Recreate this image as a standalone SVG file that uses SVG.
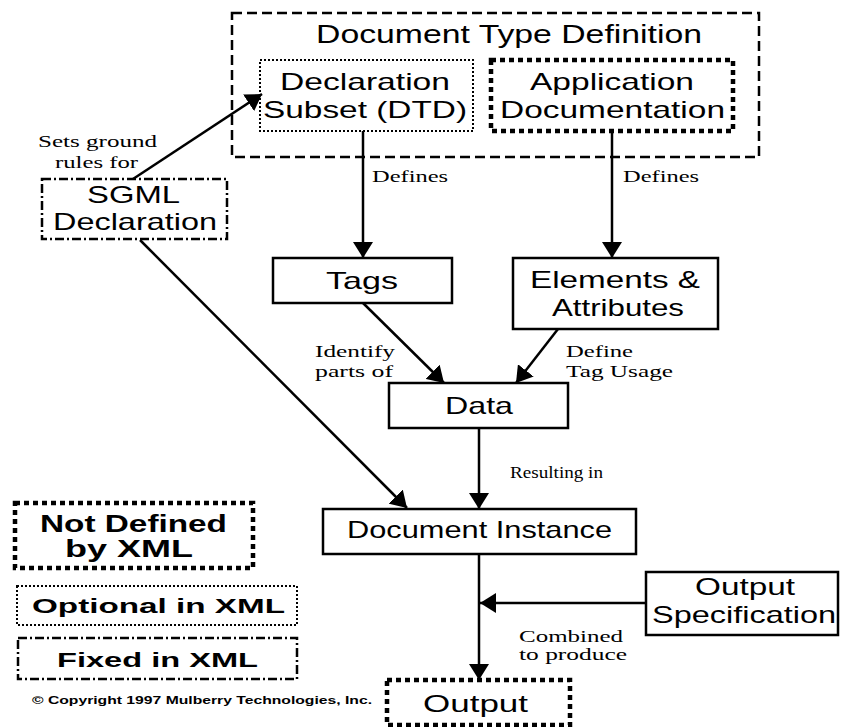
<svg xmlns="http://www.w3.org/2000/svg" width="841" height="727" viewBox="0 0 841 727">
  <style>
    .box { fill: none; stroke: #000; stroke-width: 2.5; }
    .dashed { stroke-dasharray: 10 5; stroke-width: 2.5; }
    .dotted { stroke-dasharray: 2 2; stroke-width: 2; }
    .thickdot { stroke-dasharray: 5 4; stroke-width: 4.5; }
    .dashdot { stroke-dasharray: 9 3 2 3; stroke-width: 2.5; }
    .sans { font-family: "Liberation Sans", Arial, sans-serif; font-size: 24px; fill: #000; }
    .title { font-size: 25px; }
    .serif { font-family: "Liberation Serif", "Times New Roman", serif; font-size: 16px; fill: #000; }
    .legend { font-family: "Liberation Sans", Arial, sans-serif; font-weight: bold; fill: #000; }
    .conn line { stroke: #000; stroke-width: 2.5; }
  </style>
  <defs>
    <marker id="arrow" viewBox="0 0 16 20" refX="16" refY="10" markerWidth="16" markerHeight="20" markerUnits="userSpaceOnUse" orient="auto">
      <path d="M0,0 L16,10 L0,20 Z" fill="#000"/>
    </marker>
  </defs>
  <rect width="841" height="727" fill="#fff"/>

  <!-- Document Type Definition container -->
  <g id="dtd">
    <rect class="box dashed" x="232" y="13" width="527" height="144"/>
    <text class="sans title" x="316" y="43" textLength="386" lengthAdjust="spacingAndGlyphs">Document Type Definition</text>
  </g>
  <g id="declaration-subset">
    <rect class="box dotted" x="260" y="60" width="213" height="71"/>
    <text class="sans" x="280" y="90" textLength="170" lengthAdjust="spacingAndGlyphs">Declaration</text>
    <text class="sans" x="263" y="118" textLength="204" lengthAdjust="spacingAndGlyphs">Subset (DTD)</text>
  </g>
  <g id="application-documentation">
    <rect class="box thickdot" x="491" y="60" width="242" height="71"/>
    <text class="sans" x="530" y="90" textLength="164" lengthAdjust="spacingAndGlyphs">Application</text>
    <text class="sans" x="500" y="118" textLength="225" lengthAdjust="spacingAndGlyphs">Documentation</text>
  </g>
  <g id="sgml-declaration">
    <rect class="box dashdot" x="42" y="179" width="185" height="60"/>
    <text class="sans" x="87" y="203" textLength="93" lengthAdjust="spacingAndGlyphs">SGML</text>
    <text class="sans" x="53" y="230" textLength="164" lengthAdjust="spacingAndGlyphs">Declaration</text>
  </g>
  <g id="tags">
    <rect class="box" x="273" y="258" width="179" height="45"/>
    <text class="sans" x="326" y="289" textLength="72" lengthAdjust="spacingAndGlyphs">Tags</text>
  </g>
  <g id="elements-attributes">
    <rect class="box" x="513" y="258" width="205" height="71"/>
    <text class="sans" x="530" y="288" textLength="170" lengthAdjust="spacingAndGlyphs">Elements &amp;</text>
    <text class="sans" x="552" y="316" textLength="132" lengthAdjust="spacingAndGlyphs">Attributes</text>
  </g>
  <g id="data">
    <rect class="box" x="389" y="383" width="179" height="45"/>
    <text class="sans" x="445" y="414" textLength="68" lengthAdjust="spacingAndGlyphs">Data</text>
  </g>
  <g id="document-instance">
    <rect class="box" x="323" y="509" width="313" height="45"/>
    <text class="sans" x="347" y="538" textLength="265" lengthAdjust="spacingAndGlyphs">Document Instance</text>
  </g>
  <g id="output-specification">
    <rect class="box" x="646" y="572" width="192" height="63"/>
    <text class="sans" x="695" y="595" textLength="100" lengthAdjust="spacingAndGlyphs">Output</text>
    <text class="sans" x="652" y="623" textLength="184" lengthAdjust="spacingAndGlyphs">Specification</text>
  </g>
  <g id="output">
    <rect class="box thickdot" x="387" y="680" width="183" height="45"/>
    <text class="sans" x="423" y="712" textLength="105" lengthAdjust="spacingAndGlyphs">Output</text>
  </g>

  <!-- connectors -->
  <g id="connectors" class="conn">
    <line x1="133" y1="179" x2="262" y2="94" marker-end="url(#arrow)"/>
    <line x1="363" y1="131" x2="363" y2="258" marker-end="url(#arrow)"/>
    <line x1="612" y1="131" x2="612" y2="258" marker-end="url(#arrow)"/>
    <line x1="363" y1="303" x2="444" y2="383" marker-end="url(#arrow)"/>
    <line x1="558" y1="329" x2="516" y2="383" marker-end="url(#arrow)"/>
    <line x1="140" y1="240" x2="407" y2="508" marker-end="url(#arrow)"/>
    <line x1="479" y1="428" x2="479" y2="509" marker-end="url(#arrow)"/>
    <line x1="479" y1="554" x2="479" y2="680" marker-end="url(#arrow)"/>
    <line x1="646" y1="603" x2="480" y2="603" marker-end="url(#arrow)"/>
  </g>

  <!-- connector labels -->
  <g id="labels">
    <text class="serif" x="38" y="147" textLength="119" lengthAdjust="spacingAndGlyphs">Sets ground</text>
    <text class="serif" x="55" y="168" textLength="83" lengthAdjust="spacingAndGlyphs">rules for</text>
    <text class="serif" x="372" y="182" textLength="76" lengthAdjust="spacingAndGlyphs">Defines</text>
    <text class="serif" x="623" y="182" textLength="76" lengthAdjust="spacingAndGlyphs">Defines</text>
    <text class="serif" x="315" y="357" textLength="80" lengthAdjust="spacingAndGlyphs">Identify</text>
    <text class="serif" x="315" y="377" textLength="78" lengthAdjust="spacingAndGlyphs">parts of</text>
    <text class="serif" x="566" y="357" textLength="67" lengthAdjust="spacingAndGlyphs">Define</text>
    <text class="serif" x="566" y="377" textLength="107" lengthAdjust="spacingAndGlyphs">Tag Usage</text>
    <text class="serif" x="510" y="478" textLength="93" lengthAdjust="spacingAndGlyphs">Resulting in</text>
    <text class="serif" x="519" y="642" textLength="104" lengthAdjust="spacingAndGlyphs">Combined</text>
    <text class="serif" x="519" y="660" textLength="108" lengthAdjust="spacingAndGlyphs">to produce</text>
  </g>

  <!-- legend -->
  <g id="legend-not-defined">
    <rect class="box thickdot" x="15" y="503" width="238" height="65"/>
    <text class="legend" font-size="23" x="40" y="532" textLength="187" lengthAdjust="spacingAndGlyphs">Not Defined</text>
    <text class="legend" font-size="23" x="65" y="557" textLength="128" lengthAdjust="spacingAndGlyphs">by XML</text>
  </g>
  <g id="legend-optional">
    <rect class="box dotted" x="17" y="586" width="280" height="39"/>
    <text class="legend" font-size="21" x="32" y="613" textLength="253" lengthAdjust="spacingAndGlyphs">Optional in XML</text>
  </g>
  <g id="legend-fixed">
    <rect class="box dashdot" x="18" y="638" width="279" height="41"/>
    <text class="legend" font-size="21" x="57" y="667" textLength="201" lengthAdjust="spacingAndGlyphs">Fixed in XML</text>
  </g>
  <text class="legend" font-size="11" x="32" y="704" textLength="340" lengthAdjust="spacingAndGlyphs">© Copyright 1997 Mulberry Technologies, Inc.</text>
</svg>
